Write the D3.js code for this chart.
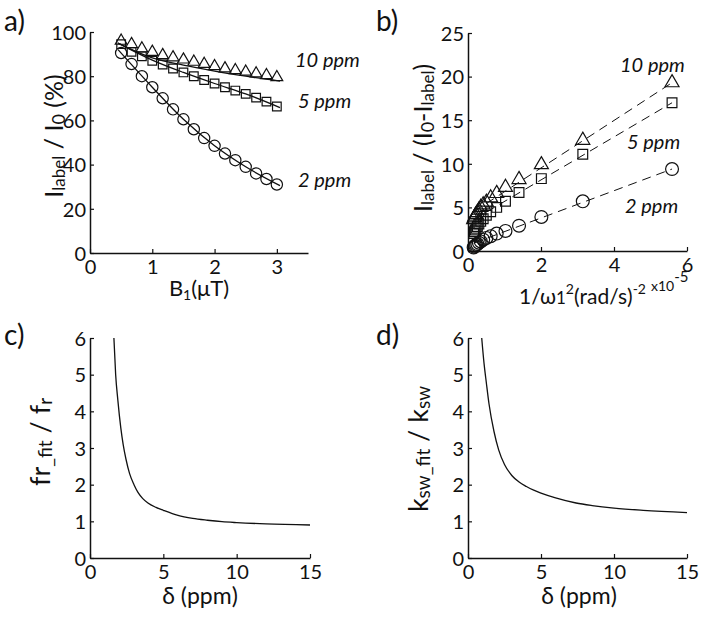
<!DOCTYPE html>
<html><head><meta charset="utf-8">
<script src="https://cdn.jsdelivr.net/npm/d3@7"></script>
<style>
html,body{margin:0;padding:0;background:#fff;}
svg{display:block;font-family:Lato, "Open Sans", sans-serif;}
</style></head>
<body>
<svg id="chart" width="714" height="618"></svg>
<script>
// ---------- data ----------
// Panel a: B1 (uT) vs Ilabel/I0 (%)
const B1 = [0.5, 0.667, 0.833, 1.0, 1.167, 1.333, 1.5, 1.667, 1.833, 2.0, 2.167, 2.333, 2.5, 2.667, 2.833, 3.0];
const a2ppm  = [90.5, 85.5, 80, 75, 70, 65, 60.5, 56, 52, 48.5, 45, 42, 39, 36, 33.5, 31];
const a5ppm  = [94.5, 91, 89, 87, 85.3, 83.5, 81.7, 80, 78.3, 76.7, 75, 73.5, 72, 70.3, 68.5, 66.3];
const a10ppm = [96, 94.5, 92.5, 91, 89.5, 88.5, 87.5, 86.5, 85.5, 84.5, 83.5, 82.7, 82, 81.2, 80.4, 79.5];
const fitB1 = [0.45, 1.0, 1.5, 2.0, 2.5, 3.05];
const fitA2  = [92, 75, 60.5, 48.5, 39, 30.5];
const fitA5  = [95, 87.3, 81.7, 76.7, 72, 65.8];
const fitA10 = [95, 88.3, 85, 82.3, 80, 77.8];
// Panel b: 1/w1^2 (x1e-5) vs Ilabel/(I0-Ilabel)
const invW2 = [5.59, 3.145, 2.01, 1.398, 1.027, 0.786, 0.621, 0.503, 0.416, 0.349, 0.298, 0.257, 0.224, 0.197, 0.174, 0.155];
const b2ppm  = [9.4, 5.7, 3.9, 2.9, 2.3, 2.0, 1.7, 1.5, 1.3, 1.1, 0.95, 0.8, 0.7, 0.6, 0.5, 0.4];
const b5ppm  = [17.0, 11.1, 8.3, 6.7, 5.7, 5.0, 4.5, 4.1, 3.7, 3.4, 3.1, 2.8, 2.6, 2.4, 2.2, 2.0];
const b10ppm = [19.3, 12.7, 9.9, 8.2, 7.3, 6.6, 6.1, 5.6, 5.3, 5.0, 4.7, 4.4, 4.2, 4.0, 3.8, 3.6];
const fitBx  = [0.155, 5.59];
const fitB2  = [0.9, 9.4];
const fitB5  = [3.6, 17.0];
const fitB10 = [4.5, 19.3];
// Panel c: delta (ppm) vs fr_fit/fr
const deltaC = [1.63, 1.75, 1.9, 2.1, 2.26, 2.45, 2.7, 3.0, 3.27, 3.6, 3.95, 4.5, 5, 6, 7, 8, 9, 10, 12, 15];
const frRatio = [6.0, 5.0, 4.3, 3.55, 3.1, 2.7, 2.3, 2.0, 1.79, 1.62, 1.5, 1.38, 1.3, 1.16, 1.08, 1.03, 0.99, 0.965, 0.93, 0.90];
// Panel d: delta (ppm) vs ksw_fit/ksw
const deltaD = [0.94, 1.1, 1.25, 1.44, 1.78, 2.1, 2.5, 3.0, 3.5, 4.0, 4.5, 5, 6, 7.4, 8.5, 10, 12, 15];
const kswRatio = [6.0, 5.3, 4.8, 4.2, 3.45, 2.95, 2.55, 2.25, 2.07, 1.95, 1.85, 1.77, 1.64, 1.5, 1.43, 1.36, 1.3, 1.24];

const ticksAx = [0, 1, 2, 3], ticksAy = [0, 20, 40, 60, 80, 100];
const ticksBx = [0, 2, 4, 6], ticksBy = [0, 5, 10, 15, 20, 25];
const ticksCDx = [0, 5, 10, 15], ticksCDy = [0, 1, 2, 3, 4, 5, 6];

// ---------- drawing ----------
const svg = d3.select("#chart");
const FS = 20;

function axes(g, x, y, xt, yt) {
  const ax = g.append("g").attr("transform", `translate(0,${y.range()[0]})`)
    .call(d3.axisBottom(x).tickValues(xt).tickFormat(d3.format("d")).tickSizeInner(-4).tickSizeOuter(0).tickPadding(7));
  const ay = g.append("g").attr("transform", `translate(${x.range()[0]},0)`)
    .call(d3.axisLeft(y).tickValues(yt).tickFormat(d3.format("d")).tickSizeInner(-4).tickSizeOuter(0).tickPadding(4));
  [ax, ay].forEach(a => {
    a.selectAll("text").attr("font-size", FS).attr("font-family", "Lato").attr("fill", "#111");
    a.select(".domain").attr("stroke", "#111").attr("stroke-width", 1.5);
    a.selectAll(".tick line").attr("stroke", "#111").attr("stroke-width", 1.2);
  });
  ay.selectAll("text").attr("dy", "0.36em");
}
function markers(g, xs, ys, x, y, type, size) {
  g.append("g").selectAll("path").data(xs.map((d, i) => [d, ys[i]])).join("path")
    .attr("transform", d => `translate(${x(d[0])},${y(d[1])})`)
    .attr("d", d3.symbol().type(type).size(size))
    .attr("fill", "none").attr("stroke", "#111").attr("stroke-width", 1.2);
}
function line(g, xs, ys, x, y, dash) {
  g.append("path").datum(xs.map((d, i) => [d, ys[i]]))
    .attr("d", d3.line().x(d => x(d[0])).y(d => y(d[1])).curve(d3.curveMonotoneX))
    .attr("fill", "none").attr("stroke", "#111").attr("stroke-width", dash ? 1 : 1.3)
    .attr("stroke-dasharray", dash ? "9,6" : null);
}
function txt(g, x, y, s, size, opts = {}) {
  return g.append("text").attr("x", x).attr("y", y).attr("font-size", size)
    .attr("font-style", opts.italic ? "italic" : "normal")
    .attr("text-anchor", opts.anchor || "start").attr("fill", "#111").text(s);
}
function rich(g, parts, cx, cy, rotate, anchor) {
  const t = g.append("text").attr("text-anchor", anchor || "middle").attr("fill", "#111")
    .attr("transform", `translate(${cx},${cy})` + (rotate ? " rotate(-90)" : ""));
  parts.forEach(p => {
    t.append("tspan").attr("font-size", p.s).attr("dy", p.dy || 0).text(p.t);
  });
  return t;
}

// Panel a
{
  const g = svg.append("g");
  const x = d3.scaleLinear().domain([0, 3.5]).range([90, 308]);
  const y = d3.scaleLinear().domain([0, 100]).range([253, 32]);
  axes(g, x, y, ticksAx, ticksAy);
  line(g, fitB1, fitA10, x, y); line(g, fitB1, fitA5, x, y); line(g, fitB1, fitA2, x, y);
  markers(g, B1, a10ppm, x, y, d3.symbolTriangle, 60);
  markers(g, B1, a5ppm, x, y, d3.symbolSquare, 75);
  markers(g, B1, a2ppm, x, y, d3.symbolCircle, 100);
  txt(g, 295, 67, "10 ppm", FS, {italic: true});
  txt(g, 298, 108, "5 ppm", FS, {italic: true});
  txt(g, 298, 187, "2 ppm", FS, {italic: true});
  txt(g, 4, 31, "a)", 28);
  rich(g, [{t: "B", s: 22}, {t: "1", s: 14, dy: 4}, {t: "(μT)", s: 22, dy: -4}], 199, 296);
  rich(g, [{t: "I", s: 25}, {t: "label", s: 17, dy: 2}, {t: " / I", s: 25, dy: -2}, {t: "0", s: 18, dy: 2}, {t: " (%)", s: 25, dy: -2}], 63, 136, true);
}
// Panel b
{
  const g = svg.append("g");
  const x = d3.scaleLinear().domain([0, 6]).range([468, 687]);
  const y = d3.scaleLinear().domain([0, 25]).range([251, 33]);
  axes(g, x, y, ticksBx, ticksBy);
  line(g, fitBx, fitB10, x, y, true); line(g, fitBx, fitB5, x, y, true); line(g, fitBx, fitB2, x, y, true);
  markers(g, invW2, b10ppm, x, y, d3.symbolTriangle, 85);
  markers(g, invW2, b5ppm, x, y, d3.symbolSquare, 95);
  markers(g, invW2, b2ppm, x, y, d3.symbolCircle, 130);
  txt(g, 620, 72, "10 ppm", FS, {italic: true});
  txt(g, 627, 149, "5 ppm", FS, {italic: true});
  txt(g, 625, 213, "2 ppm", FS, {italic: true});
  txt(g, 376, 31, "b)", 28);
  rich(g, [{t: "1/ω", s: 21}, {t: "1", s: 17}, {t: "2", s: 14, dy: -10}, {t: "(rad/s)", s: 21, dy: 10}, {t: "-2", s: 14, dy: -10}], 646, 304, false, "end");
  rich(g, [{t: "x10", s: 14}, {t: "-5", s: 15, dy: -9}], 651, 291, false, "start");
  rich(g, [{t: "I", s: 25}, {t: "label", s: 17, dy: 2}, {t: " / (I", s: 25, dy: -2}, {t: "0", s: 18, dy: 2}, {t: "-I", s: 25, dy: -2}, {t: "label", s: 17, dy: 2}, {t: ")", s: 25, dy: -2}], 432, 138, true);
}
// Panel c
{
  const g = svg.append("g");
  const x = d3.scaleLinear().domain([0, 15]).range([90, 310]);
  const y = d3.scaleLinear().domain([0, 6]).range([558, 338]);
  axes(g, x, y, ticksCDx, ticksCDy);
  line(g, deltaC, frRatio, x, y);
  txt(g, 4, 345, "c)", 28);
  rich(g, [{t: "δ (ppm)", s: 23}], 200, 604);
  rich(g, [{t: "fr", s: 27}, {t: "_fit", s: 19, dy: 2}, {t: " / f", s: 27, dy: -2}, {t: "r", s: 19, dy: 2}], 50, 442, true);
}
// Panel d
{
  const g = svg.append("g");
  const x = d3.scaleLinear().domain([0, 15]).range([468, 687]);
  const y = d3.scaleLinear().domain([0, 6]).range([558, 338]);
  axes(g, x, y, ticksCDx, ticksCDy);
  line(g, deltaD, kswRatio, x, y);
  txt(g, 376, 345, "d)", 28);
  rich(g, [{t: "δ (ppm)", s: 23}], 579, 604);
  rich(g, [{t: "k", s: 27}, {t: "sw_fit", s: 19, dy: 2}, {t: " / k", s: 27, dy: -2}, {t: "sw", s: 19, dy: 2}], 428, 449, true);
}
</script>
</body></html>
